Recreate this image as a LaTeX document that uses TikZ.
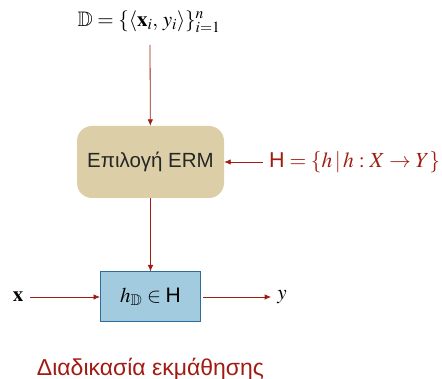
\documentclass[tikz,border=0pt]{standalone}
\usepackage{amssymb}
\usepackage{mathptmx}
\usepackage{fontspec}
\setmainfont{Liberation Sans}
\usetikzlibrary{arrows.meta}
\definecolor{dred}{HTML}{A01C12}
\definecolor{tan}{HTML}{DCCFA8}
\definecolor{lblue}{HTML}{A3CBDF}
\definecolor{bblue}{HTML}{2F6C9C}
\tikzset{
  conn/.style={draw=dred, line width=0.8pt, -{Latex[length=6.5pt,width=5.5pt]}},
  lbl/.style={font=\fontsize{20.5}{24}\selectfont, inner sep=2pt},
  mlbl/.style={font=\fontsize{21}{25}\selectfont, inner sep=2pt},
  hlbl/.style={font=\fontsize{21.5}{25}\selectfont, inner sep=2pt},
}
\begin{document}
\begin{tikzpicture}[x=1pt,y=-1pt]
\useasboundingbox (0,0) rectangle (442,379);
\node[mlbl, inner sep=0pt] (top) at (149,22) {$\mathbb{D}=\{\langle\mathbf{x}_i,\,y_i\rangle\}_{i=1}^{n}$};
\coordinate (topend) at (150,45);
\node[lbl, fill=tan, rounded corners=15pt, minimum width=147pt, minimum height=72pt, text=black!85] (erm) at (150.5,162) {Επιλογή ERM};
\node[hlbl, anchor=west, text=dred, inner sep=6pt] (hyp) at (263,162) {$\mbox{H}=\{h\,|\,h:X\rightarrow Y\}$};
\node[mlbl, fill=lblue, draw=bblue, line width=1pt, minimum width=100pt, minimum height=50pt] (hd) at (150.5,297) {$h_{\mathbb{D}}\in\mbox{H}$};
\node[mlbl, inner sep=7pt] (x) at (18,297) {$\mathbf{x}$};
\node[mlbl, inner sep=6pt] (y) at (282,297) {$y$};
\node[font=\fontsize{23}{27}\selectfont, text=dred] (cap) at (150.5,369) {Διαδικασία εκμάθησης};
\draw[conn] (topend) -- (erm);
\draw[conn] (hyp) -- (erm);
\draw[conn] (erm) -- (hd);
\draw[conn] (x) -- (hd);
\draw[conn] (hd.east) ++(2,0) -- (y);
\end{tikzpicture}
\end{document}
